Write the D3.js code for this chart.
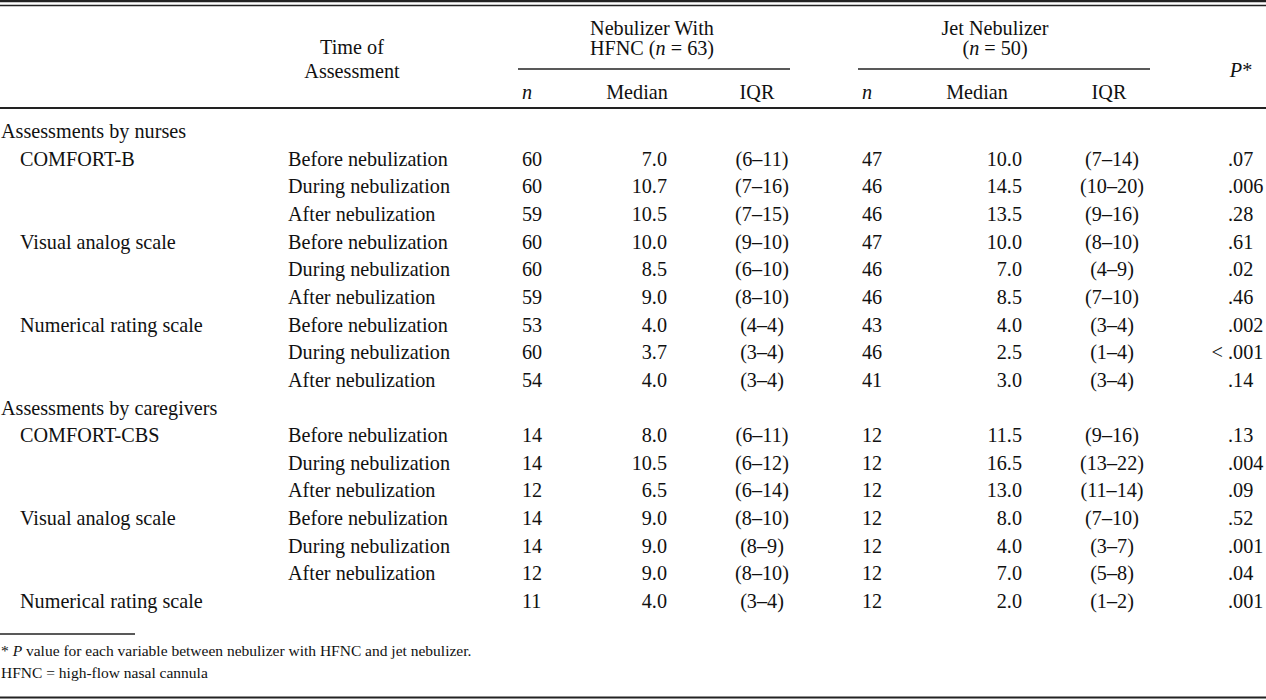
<!DOCTYPE html>
<html><head><meta charset="utf-8">
<script src="https://cdn.jsdelivr.net/npm/d3@7"></script>
<style>
body{margin:0;background:#fff;}
svg text{font-family:"Liberation Serif","Times New Roman",serif;fill:#111;}
</style></head><body>
<svg id="c" width="1266" height="700"></svg>
<script>
// ---- data ----
const sections = ["Assessments by nurses", "Assessments by caregivers"];
const scales = [
  ["COMFORT-B", "Visual analog scale", "Numerical rating scale"],
  ["COMFORT-CBS", "Visual analog scale", "Numerical rating scale"]
];
const times = ["Before nebulization", "During nebulization", "After nebulization"];
// rows per scale (last caregiver NRS has no time listed)
const rowTimes = [
  [times, times, times],
  [times, times, [""]]
];
const nebN      = [60,60,59, 60,60,59, 53,60,54, 14,14,12, 14,14,12, 11];
const nebMedian = ["7.0","10.7","10.5", "10.0","8.5","9.0", "4.0","3.7","4.0", "8.0","10.5","6.5", "9.0","9.0","9.0", "4.0"];
const nebIQR    = ["(6–11)","(7–16)","(7–15)", "(9–10)","(6–10)","(8–10)", "(4–4)","(3–4)","(3–4)", "(6–11)","(6–12)","(6–14)", "(8–10)","(8–9)","(8–10)", "(3–4)"];
const jetN      = [47,46,46, 47,46,46, 43,46,41, 12,12,12, 12,12,12, 12];
const jetMedian = ["10.0","14.5","13.5", "10.0","7.0","8.5", "4.0","2.5","3.0", "11.5","16.5","13.0", "8.0","4.0","7.0", "2.0"];
const jetIQR    = ["(7–14)","(10–20)","(9–16)", "(8–10)","(4–9)","(7–10)", "(3–4)","(1–4)","(3–4)", "(9–16)","(13–22)","(11–14)", "(7–10)","(3–7)","(5–8)", "(1–2)"];
const pValues   = [".07",".006",".28", ".61",".02",".46", ".002","< .001",".14", ".13",".004",".09", ".52",".001",".04", ".001"];

// ---- build rows ----
const rows = [];
let di = 0;
sections.forEach((s, si) => {
  rows.push({type: "section", label: s});
  scales[si].forEach((sc, ki) => {
    rowTimes[si][ki].forEach((t, ti) => {
      rows.push({type: "data", scale: ti === 0 ? sc : "", time: t, i: di++});
    });
  });
});

const svg = d3.select("#c");
const FS = 20.2;
const y = d3.scaleLinear().domain([0, rows.length - 1]).range([131, 601]);
const col = {sec: 1, scale: 20, time: 288, nebN: 522, nebMed: 667, nebIQR: 762, jetN: 862, jetMed: 1022, jetIQR: 1112, p: 1228};

function txt(x, yy, s, anchor) {
  return svg.append("text").attr("x", x).attr("y", yy).attr("dy", "0.35em")
    .attr("text-anchor", anchor || "start").attr("font-size", FS).text(s);
}
function line(x1, x2, yy, w) {
  svg.append("line").attr("x1", x1).attr("x2", x2).attr("y1", yy).attr("y2", yy)
    .attr("stroke", "#222").attr("stroke-width", w);
}

// rules
line(0, 1266, 1, 2.4);
line(0, 1266, 5.5, 1.6);
line(0, 1266, 108, 1.8);
line(518, 790, 69, 1.4);
line(858, 1150, 69, 1.4);
line(0, 135, 634, 1.4);
line(0, 1266, 697.5, 2.2);

// header
txt(352, 47, "Time of", "middle");
txt(352, 71, "Assessment", "middle");
txt(652, 28, "Nebulizer With", "middle");
const h1 = txt(652, 48, "", "middle");
h1.append("tspan").text("HFNC (");
h1.append("tspan").attr("font-style", "italic").text("n");
h1.append("tspan").text(" = 63)");
txt(995, 28, "Jet Nebulizer", "middle");
const h2 = txt(995, 48, "", "middle");
h2.append("tspan").text("(");
h2.append("tspan").attr("font-style", "italic").text("n");
h2.append("tspan").text(" = 50)");
const hp = txt(1241, 70, "", "middle");
hp.append("tspan").attr("font-style", "italic").text("P");
hp.append("tspan").text("*");
txt(col.nebN, 92, "n").attr("font-style", "italic");
txt(637, 92, "Median", "middle");
txt(757, 92, "IQR", "middle");
txt(col.jetN, 92, "n").attr("font-style", "italic");
txt(977, 92, "Median", "middle");
txt(1109, 92, "IQR", "middle");

// body
rows.forEach((r, ri) => {
  const yy = y(ri);
  if (r.type === "section") { txt(col.sec, yy, r.label); return; }
  if (r.scale) txt(col.scale, yy, r.scale);
  if (r.time) txt(col.time, yy, r.time);
  const i = r.i;
  txt(col.nebN, yy, nebN[i]);
  txt(col.nebMed, yy, nebMedian[i], "end");
  txt(col.nebIQR, yy, nebIQR[i], "middle");
  txt(col.jetN, yy, jetN[i]);
  txt(col.jetMed, yy, jetMedian[i], "end");
  txt(col.jetIQR, yy, jetIQR[i], "middle");
  const p = pValues[i];
  if (p.startsWith("<")) {
    txt(col.p - 5, yy, "<", "end");
    txt(col.p, yy, p.replace("< ", ""));
  } else txt(col.p, yy, p);
});

// footnotes
const f1 = svg.append("text").attr("x", 1).attr("y", 651).attr("dy", "0.35em").attr("font-size", 15.5);
f1.append("tspan").text("* ");
f1.append("tspan").attr("font-style", "italic").text("P");
f1.append("tspan").text(" value for each variable between nebulizer with HFNC and jet nebulizer.");
svg.append("text").attr("x", 1).attr("y", 673).attr("dy", "0.35em").attr("font-size", 15.5)
  .text("HFNC = high-flow nasal cannula");
</script>
</body></html>
